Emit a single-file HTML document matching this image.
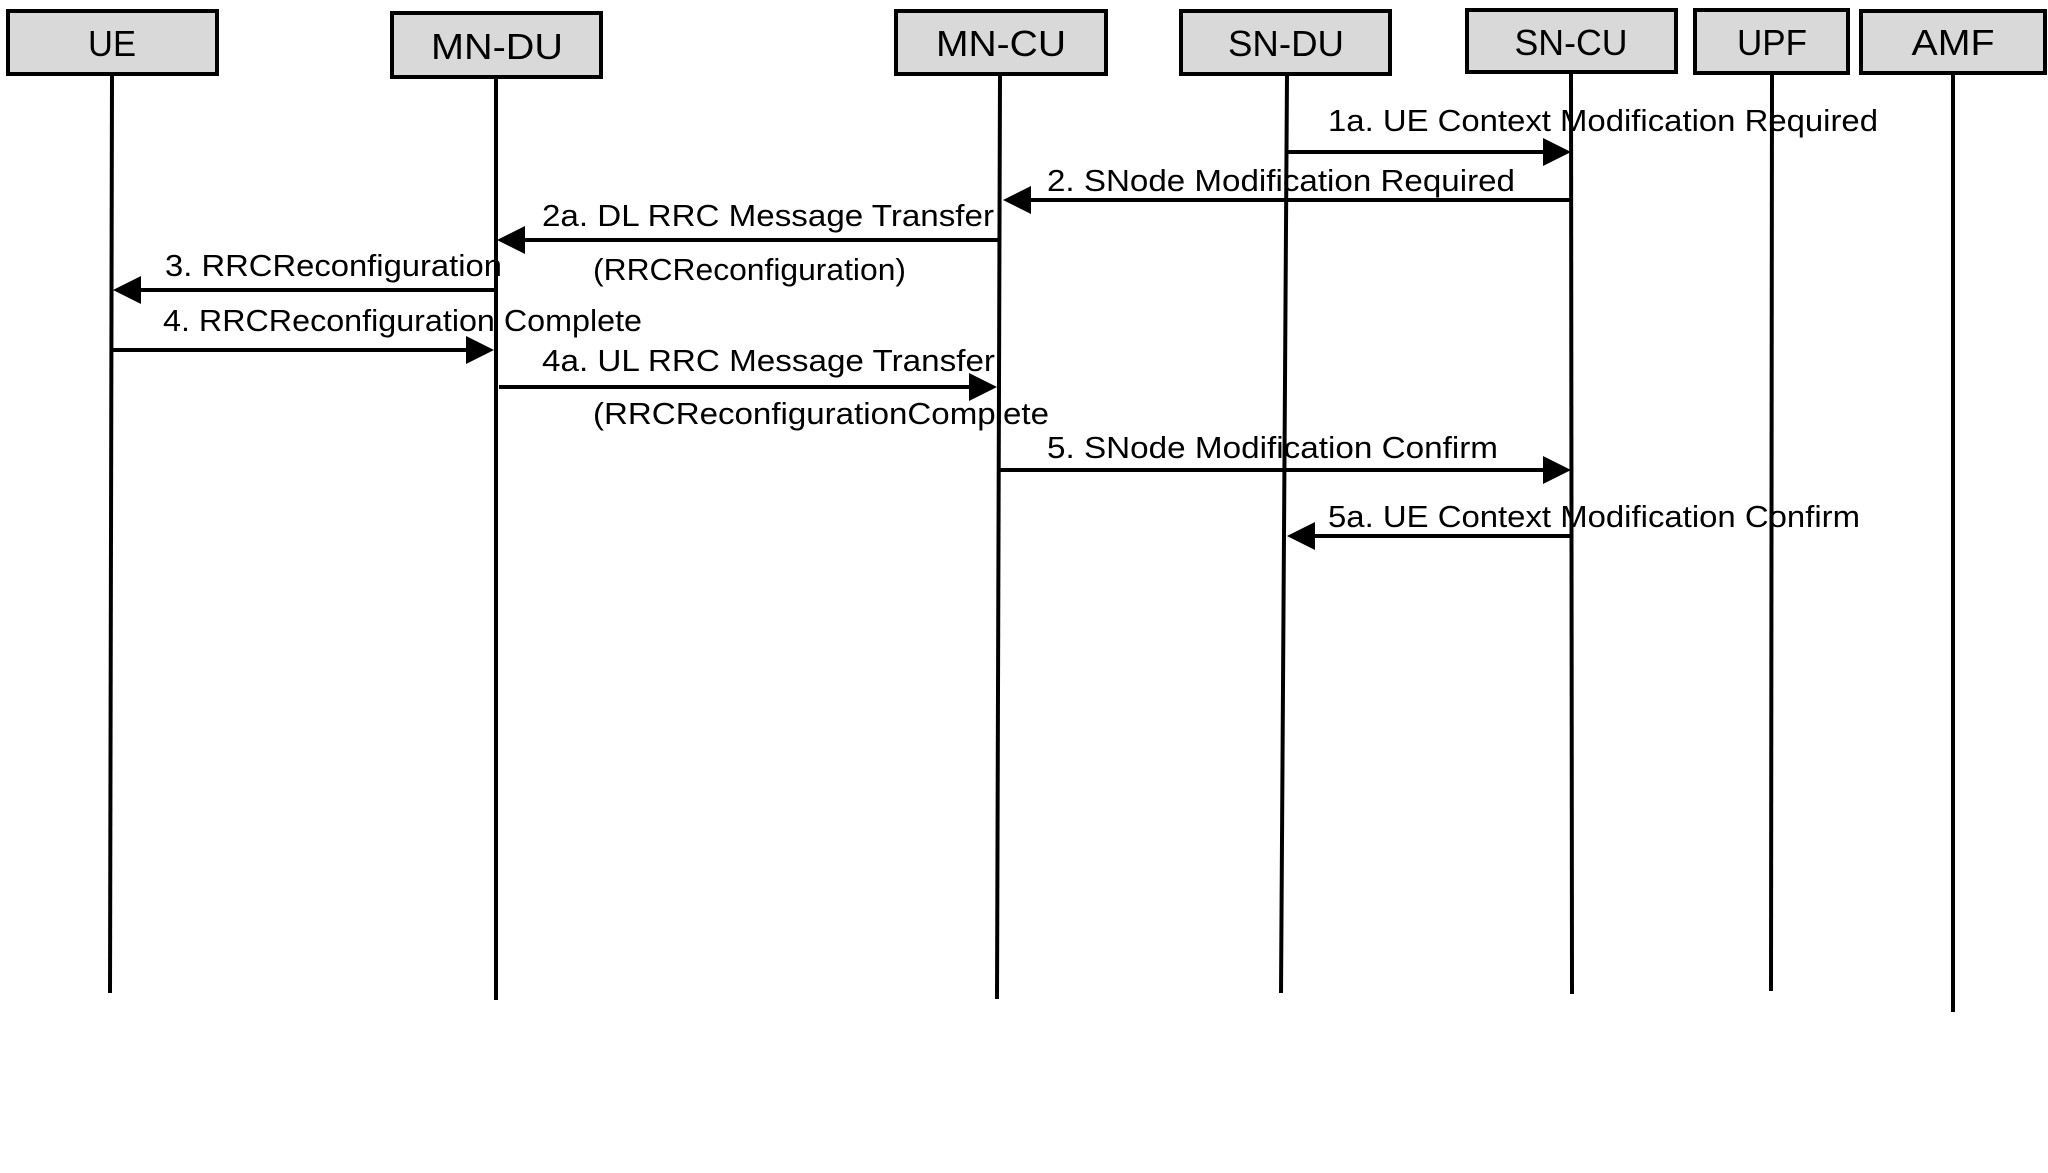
<!DOCTYPE html>
<html><head><meta charset="utf-8"><style>
html,body{margin:0;padding:0;background:#fff;}
svg{display:block;}
text{font-family:"Liberation Sans",sans-serif;font-size:31px;fill:#000;}
.b{font-size:36px;text-anchor:middle;}
</style></head><body>
<svg width="2048" height="1173" viewBox="0 0 2048 1173" xmlns="http://www.w3.org/2000/svg">
<g fill="#d9d9d9" stroke="#000" stroke-width="4">
<rect x="8" y="11" width="209" height="63"/>
<rect x="392" y="13" width="209" height="64"/>
<rect x="896" y="11" width="210" height="63"/>
<rect x="1181" y="11" width="209" height="63"/>
<rect x="1467" y="10" width="209" height="62"/>
<rect x="1695" y="10" width="153" height="63"/>
<rect x="1861" y="11" width="184" height="62"/>
</g>
<g>
<text class="b" x="112" y="56" textLength="48" lengthAdjust="spacingAndGlyphs">UE</text>
<text class="b" x="497" y="59" textLength="132" lengthAdjust="spacingAndGlyphs">MN-DU</text>
<text class="b" x="1001" y="56" textLength="130" lengthAdjust="spacingAndGlyphs">MN-CU</text>
<text class="b" x="1286" y="56" textLength="116" lengthAdjust="spacingAndGlyphs">SN-DU</text>
<text class="b" x="1571" y="55" textLength="113" lengthAdjust="spacingAndGlyphs">SN-CU</text>
<text class="b" x="1772" y="55" textLength="70" lengthAdjust="spacingAndGlyphs">UPF</text>
<text class="b" x="1953" y="55" textLength="83" lengthAdjust="spacingAndGlyphs">AMF</text>
</g>
<g stroke="#000" stroke-width="4" fill="none">
<line x1="112" y1="75" x2="110" y2="993"/>
<line x1="496" y1="78" x2="496" y2="1000"/>
<line x1="1000" y1="75" x2="997" y2="999"/>
<line x1="1287" y1="75" x2="1281" y2="993"/>
<line x1="1571" y1="73" x2="1572" y2="994"/>
<line x1="1772" y1="74" x2="1771" y2="991"/>
<line x1="1953" y1="74" x2="1953" y2="1012"/>
<line x1="1287" y1="152" x2="1545" y2="152"/>
<line x1="1571" y1="200" x2="1030" y2="200"/>
<line x1="1000" y1="240" x2="524" y2="240"/>
<line x1="496" y1="290" x2="140" y2="290"/>
<line x1="112" y1="350" x2="466" y2="350"/>
<line x1="499" y1="387" x2="970" y2="387"/>
<line x1="1000" y1="470" x2="1545" y2="470"/>
<line x1="1571" y1="536" x2="1313" y2="536"/>
</g>
<g fill="#000">
<polygon points="1571,152 1543,138 1543,166"/>
<polygon points="1003,200 1031,186 1031,214"/>
<polygon points="497,240 525,226 525,254"/>
<polygon points="113,290 141,276 141,304"/>
<polygon points="494,350 466,336 466,364"/>
<polygon points="997,387 969,373 969,401"/>
<polygon points="1571,470 1543,456 1543,484"/>
<polygon points="1287,536 1315,522 1315,550"/>
</g>
<text x="1328" y="131" textLength="550" lengthAdjust="spacingAndGlyphs">1a. UE Context Modification Required</text>
<text x="1047" y="191" textLength="468" lengthAdjust="spacingAndGlyphs">2. SNode Modification Required</text>
<text x="542" y="226" textLength="452" lengthAdjust="spacingAndGlyphs">2a. DL RRC Message Transfer</text>
<text x="593" y="280" textLength="313" lengthAdjust="spacingAndGlyphs">(RRCReconfiguration)</text>
<text x="165" y="276" textLength="337" lengthAdjust="spacingAndGlyphs">3. RRCReconfiguration</text>
<text x="163" y="331" textLength="479" lengthAdjust="spacingAndGlyphs">4. RRCReconfiguration Complete</text>
<text x="542" y="371" textLength="453" lengthAdjust="spacingAndGlyphs">4a. UL RRC Message Transfer</text>
<text x="593" y="424" textLength="456" lengthAdjust="spacingAndGlyphs">(RRCReconfigurationComplete</text>
<text x="1047" y="458" textLength="451" lengthAdjust="spacingAndGlyphs">5. SNode Modification Confirm</text>
<text x="1328" y="527" textLength="532" lengthAdjust="spacingAndGlyphs">5a. UE Context Modification Confirm</text>
</svg>
</body></html>
